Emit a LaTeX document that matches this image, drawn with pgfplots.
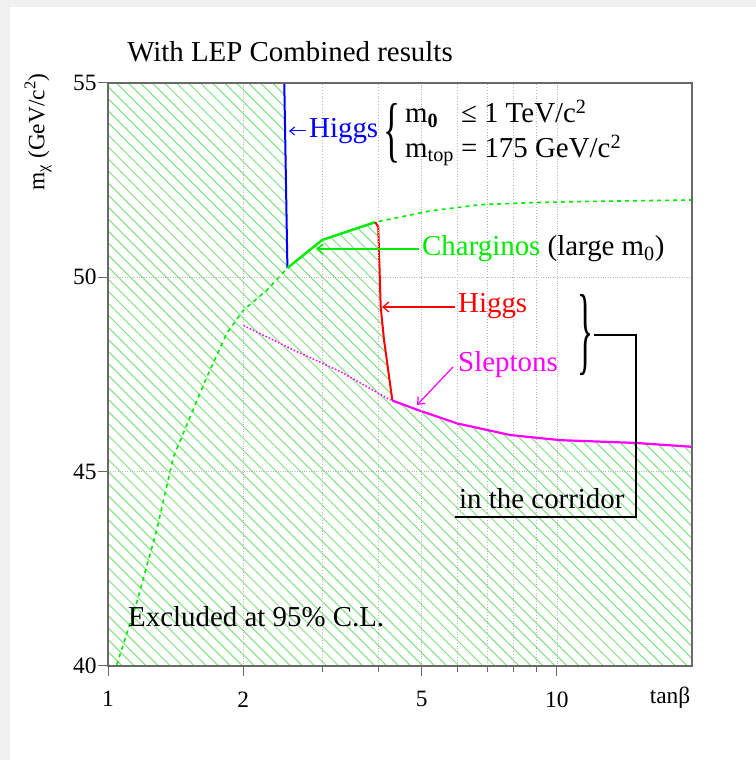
\documentclass[border=0pt]{standalone}
\usepackage{pgfplots}
\pgfplotsset{compat=1.18}
\usepackage{graphicx}
\usepackage{fontspec}
\setmainfont{Liberation Serif}
\usetikzlibrary{patterns.meta, arrows.meta}

\definecolor{hatchgreen}{RGB}{125,228,125}
\definecolor{lgreen}{RGB}{0,235,0}
\definecolor{magentaline}{RGB}{255,0,255}
\definecolor{framegray}{RGB}{105,105,105}
\definecolor{gridgray}{RGB}{185,185,185}

\newcommand{\lbl}{\fontsize{29}{35}\selectfont}
\newcommand{\tck}{\fontsize{23.5}{27}\selectfont}

\begin{document}
\begin{tikzpicture}[x=1bp,y=1bp]
% page background
\fill[black!6] (0,0) rectangle (756,760);
\fill[white] (10,0) rectangle (756,753);

\begin{axis}[
  at={(108bp,94bp)}, anchor=south west,
  scale only axis, width=584bp, height=583bp,
  xmode=log, xmin=1, xmax=20, ymin=40, ymax=55,
  xtick={1,2,5,10}, xticklabels={1,2,5,10},
  minor xtick={3,4,6,7,8,9},
  ytick={40,45,50,55},
  tick pos=left, tick align=outside,
  major tick length=10bp, minor tick length=6bp,
  every tick/.style={framegray, line width=1bp},
  grid=both,
  grid style={gridgray, dotted, line width=0.8bp},
  minor grid style={gridgray, dotted, line width=0.8bp},
  axis line style={framegray, line width=1.5bp},
  tick label style={font=\tck},
  /pgf/number format/assume math mode=true,
  xticklabel style={yshift=-12bp},
  yticklabel style={xshift=2bp},
  axis on top,
]

% excluded region
\addplot[draw=none, pattern={Lines[angle=-45,distance=8.5bp,line width=1bp]},
  pattern color=hatchgreen] coordinates {
  (1,40) (1,55) (2.47,55) (2.51,50.24) (3.0,50.96) (3.94,51.42)
  (4.0,51.29) (4.05,49.24) (4.12,48.39) (4.3,46.83) (4.89,46.59)
  (6,46.24) (7.89,45.94) (10.2,45.81) (14.9,45.74) (20,45.64) (20,40)
} -- cycle;

% chargino limit, full curve
\addplot[lgreen, line width=1.6bp, dash pattern=on 4bp off 4bp] coordinates {
  (1.046,40.03) (1.158,41.62) (1.284,43.5) (1.399,45.38) (1.524,46.41)
  (1.661,47.44) (1.839,48.56) (2.004,49.16) (2.26,49.67) (2.51,50.24)
  (3.0,50.96) (3.94,51.42) (5.23,51.71) (6.77,51.87) (8.75,51.92)
  (11.3,51.95) (20,51.99)
};

% slepton limit, continued
\addplot[magentaline, line width=1.5bp, dotted] coordinates {
  (2.004,48.76) (2.59,48.13) (3.30,47.57) (4.26,46.84)
};

% Higgs (low tan beta)
\addplot[blue, line width=2bp] coordinates {(2.47,55) (2.51,50.24)};
% charginos (large m0)
\addplot[lgreen, line width=2.4bp] coordinates {(2.51,50.24) (3.0,50.96) (3.94,51.42)};
% Higgs in the corridor
\addplot[red, line width=2bp] coordinates {
  (3.94,51.42) (4.0,51.29) (4.05,49.24) (4.12,48.39) (4.3,46.83)};
% sleptons
\addplot[magentaline, line width=2.2bp] coordinates {
  (4.3,46.83) (4.89,46.59) (6,46.24) (7.89,45.94) (10.2,45.81)
  (14.9,45.74) (20,45.64)};
\end{axis}

% titles and axis labels
\node[font=\lbl] at (290,708) {With LEP Combined results};
\node[font=\fontsize{23.5}{27}\selectfont, rotate=90] at (38,628)
  {m\textsubscript{χ} (GeV/c\textsuperscript{2})};
\node[font=\tck] at (670,62) {tanβ};

% annotations
\draw[blue, line width=1bp, -{Straight Barb[length=5bp,width=8bp]}] (306,629) -- (289,629);
\node[font=\lbl, blue, anchor=west, inner sep=0] at (309,629) {Higgs};

\node[inner sep=0] at (392,627) {\resizebox{17bp}{50bp}{\fontsize{29}{35}\selectfont\{}};
\node[font=\lbl, anchor=west, inner sep=0] at (405,627)
  {\begin{tabular}{@{}l@{\hspace{7bp}}l@{}}
    m\textsubscript{\textbf{0}} & ≤ 1 TeV/c\textsuperscript{2}\\
    m\textsubscript{top} & = 175 GeV/c\textsuperscript{2}
  \end{tabular}};

\draw[lgreen, line width=1.5bp, -{Straight Barb[length=6bp,width=10bp]}] (419,511) -- (316,511);
\node[font=\lbl, anchor=west, inner sep=0] at (422,511)
  {\textcolor{lgreen}{Charginos} (large m\textsubscript{0})};

\draw[red, line width=1.2bp, -{Straight Barb[length=6bp,width=10bp]}] (455,453) -- (382,453);
\node[font=\lbl, red, anchor=west, inner sep=0] at (458,454) {Higgs};

\draw[magentaline, line width=1.2bp, -{Straight Barb[length=6bp,width=10bp]}] (453,393) -- (417,355);
\node[font=\lbl, magentaline, anchor=west, inner sep=0] at (458,395) {Sleptons};

\node[inner sep=0] at (585,425) {\resizebox{16bp}{68bp}{\fontsize{29}{35}\selectfont\}}};
\draw[black, line width=1.2bp] (594,425) -- (636,425) -- (636,243) -- (455,243);
\node[font=\lbl, anchor=base west, inner sep=0] at (459,251) {in the corridor};

\node[font=\lbl, anchor=base west, inner sep=0] at (128,133) {Excluded at 95\% C.L.};
\end{tikzpicture}
\end{document}
